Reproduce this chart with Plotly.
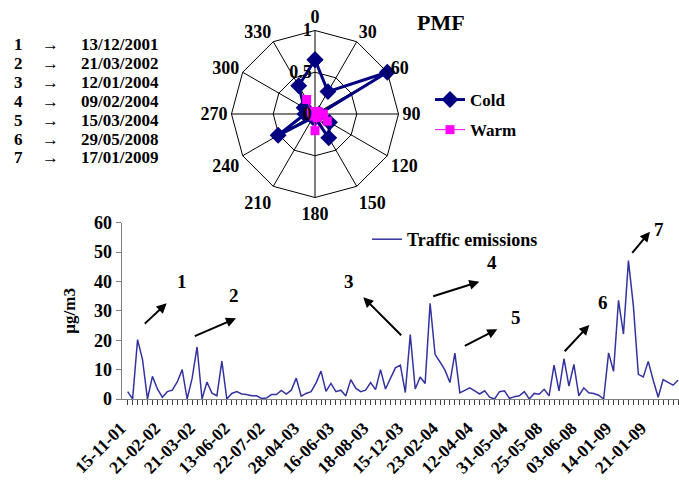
import plotly.graph_objects as go

# ---------------- data ----------------
traffic = [2.5, 0, 20.2, 13.4, 0, 7.7, 3.4, 0.6, 2.5, 3, 5.8, 10, 0, 7, 17.7, 0, 5.8, 2, 1.1, 12.9,
           0, 1.9, 2.5, 1.7, 1.5, 1.1, 1.1, 0.2, 0.3, 1.5, 1.5, 2.9, 1.7, 3, 7.1, 1, 1.9, 2.5, 5.5, 9.5,
           2.6, 5.3, 2.5, 3, 1, 6.6, 3.7, 2.5, 3, 5.6, 3.2,
           10, 3.4, 7, 10.6, 11.5, 2.2, 21.9, 3.4, 7.5, 5.3, 32.6, 15.2, 12.6, 9.8, 5.6, 15.6, 2.1, 3,
           3.8, 2.8, 1.7, 2.8, 0.6, 0, 2.5, 2.8, 0.2, 0.8, 1.1, 2.5, 0, 1.9, 1.6, 3.3, 1.1, 11.5, 2.8,
           13.7, 4.4, 11.8, 1.1, 3.8, 2.1, 1.9, 1.3, 0, 15.7, 9.4, 33.6, 22.1, 47.1, 31.7, 8.4, 7.5,
           12.8, 6.4, 0.6, 6.6, 5.6, 4.7, 6.4]
sample_index = list(range(len(traffic)))
date_labels = ["15-11-01", "21-02-02", "21-03-02", "13-06-02", "22-07-02", "28-04-03", "16-06-03",
               "18-08-03", "15-12-03", "23-02-04", "12-04-04", "31-05-04", "25-05-08", "03-06-08",
               "14-01-09", "21-01-09"]
label_every = 7

directions = ["0", "30", "60", "90", "120", "150", "180", "210", "240", "270", "300", "330"]
cold = [0.65, 0.31, 1.0, 0.05, 0.2, 0.33, 0.05, 0.05, 0.51, 0.12, 0.15, 0.39]
warm = [0.03, 0.03, 0.05, 0.1, 0.17, 0.05, 0.2, 0.03, 0.03, 0.03, 0.05, 0.2]

episode_ids = ["1", "2", "3", "4", "5", "6", "7"]
episode_dates = ["13/12/2001", "21/03/2002", "12/01/2004", "09/02/2004", "15/03/2004",
                 "29/05/2008", "17/01/2009"]

# ---------------- figure ----------------
W, H = 679, 486
FONT = "Liberation Serif"


def P(x, y):
    return x / W, 1 - y / H


tickvals = sample_index
ticktext = []
for i in sample_index:
    if i % label_every == 0 and i // label_every < len(date_labels):
        ticktext.append(date_labels[i // label_every])
    else:
        ticktext.append("")

fig = go.Figure()

fig.add_trace(go.Scatter(
    x=sample_index, y=traffic, mode="lines", name="Traffic emissions",
    line=dict(color="#3333a0", width=1.5), legend="legend2", xaxis="x", yaxis="y"))

fig.add_trace(go.Scatterpolar(
    r=cold + cold[:1], theta=directions + directions[:1], mode="lines+markers", name="Cold",
    line=dict(color="#000080", width=3), marker=dict(symbol="diamond", size=13, color="#000080"),
    legendgroup="c", subplot="polar"))
fig.add_trace(go.Scatterpolar(
    r=warm + warm[:1], theta=directions + directions[:1], mode="lines+markers", name="Warm",
    line=dict(color="#ff00ff", width=1), marker=dict(symbol="square", size=9, color="#ff00ff"),
    legendgroup="w", subplot="polar"))

x0 = 121.7 / W
y_bot, y_top = 1 - 399 / H, 1 - 222.7 / H

cx, cy, R = 315, 114, 83.5
pd0 = P(cx - R, cy + R)
pd1 = P(cx + R, cy - R)

annotations = []
# episode list
row_top, row_gap = 44, 19
for k, (eid, d) in enumerate(zip(episode_ids, episode_dates)):
    yy = row_top + k * row_gap
    for xx, txt in [(13, eid), (41, "→"), (80, d)]:
        px, py = P(xx, yy)
        annotations.append(dict(x=px, y=py, xref="paper", yref="paper", text=txt, showarrow=False,
                                xanchor="left", yanchor="middle", borderpad=0,
                                font=dict(family=FONT, size=17, color="black", weight="bold")))

# PMF title
px, py = P(441, 22)
annotations.append(dict(x=px, y=py, xref="paper", yref="paper", text="PMF", showarrow=False,
                        xanchor="center", yanchor="middle",
                        font=dict(family=FONT, size=22, color="black", weight="bold")))

# episode arrows (head, tail) and numbers
arrows = [((166.7, 303.3), (143.3, 325)), ((236, 318.3), (193.3, 336.7)),
          ((363.3, 297.3), (402.7, 336.7)), ((479.3, 281.7), (431.7, 296.7)),
          ((497.3, 329.3), (463.3, 346.7)), ((589.3, 325), (563.3, 352.7)),
          ((650, 231.7), (631, 254.3))]
num_pos = [(181.7, 281.7), (234, 295.7), (349.3, 281), (491.7, 262.7), (516, 317.3),
           (603.3, 302.7), (659.3, 229.3)]
for (hd, tl), (nx, ny), eid in zip(arrows, num_pos, episode_ids):
    hx, hy = P(*hd)
    annotations.append(dict(x=hx, y=hy, xref="paper", yref="paper", text="", showarrow=True,
                            ax=tl[0] - hd[0], ay=tl[1] - hd[1], arrowhead=2, arrowsize=1,
                            arrowwidth=2, arrowcolor="black", standoff=0, startstandoff=0))
    px, py = P(nx, ny)
    annotations.append(dict(x=px, y=py, xref="paper", yref="paper", text=eid, showarrow=False,
                            xanchor="center", yanchor="middle",
                            font=dict(family=FONT, size=19, color="black", weight="bold")))

fig.update_layout(
    width=W, height=H, margin=dict(l=0, r=0, t=0, b=0, autoexpand=False),
    paper_bgcolor="white", plot_bgcolor="white",
    font=dict(family=FONT, color="black"),
    xaxis=dict(domain=[x0, 1], range=[-1.2, 111.2], tickmode="array", tickvals=tickvals,
               ticktext=ticktext, tickangle=-45, ticks="outside", ticklen=5, tickcolor="#404040",
               ticklabelshift=-7, ticklabelstandoff=6,
               showline=True, linecolor="#808080", linewidth=1, showgrid=False, zeroline=False,
               automargin=False,
               tickfont=dict(family=FONT, size=17.5, color="black", weight="bold")),
    yaxis=dict(domain=[y_bot, y_top], range=[0, 60], dtick=10, ticks="outside", ticklen=5,
               tickcolor="#808080", showline=True, linecolor="#808080", showgrid=False,
               zeroline=False, automargin=False,
               tickfont=dict(family=FONT, size=18, color="black", weight="bold"),
               title=dict(text="µg/m3", standoff=14,
                          font=dict(family=FONT, size=17, color="black", weight="bold"))),
    polar=dict(
        domain=dict(x=[pd0[0], pd1[0]], y=[pd0[1], pd1[1]]),
        bgcolor="white", gridshape="linear",
        angularaxis=dict(direction="clockwise", rotation=90, showline=True, linecolor="black",
                         linewidth=1, gridcolor="black", gridwidth=1, ticks="",
                         tickfont=dict(family=FONT, size=18, color="black", weight="bold")),
        radialaxis=dict(range=[0, 1], tickvals=[0, 0.5, 1], ticktext=["0", "0.5", "1"],
                        angle=90, tickangle=90, showline=False, gridcolor="black", gridwidth=1,
                        ticks="", side="counterclockwise",
                        tickfont=dict(family=FONT, size=18, color="black", weight="bold"))),
    legend=dict(x=430 / W, y=1 - 82 / H, xanchor="left", yanchor="top", bgcolor="rgba(0,0,0,0)",
                tracegroupgap=5, traceorder="grouped",
                font=dict(family=FONT, size=17, color="black", weight="bold")),
    legend2=dict(x=367 / W, y=1 - 221 / H, xanchor="left", yanchor="top",
                 bgcolor="rgba(0,0,0,0)",
                 font=dict(family=FONT, size=18, color="black", weight="bold")),
    showlegend=True,
    annotations=annotations,
)

fig.write_html("out.html", config={"displayModeBar": False},
               post_script="document.body.style.margin='0px';")
